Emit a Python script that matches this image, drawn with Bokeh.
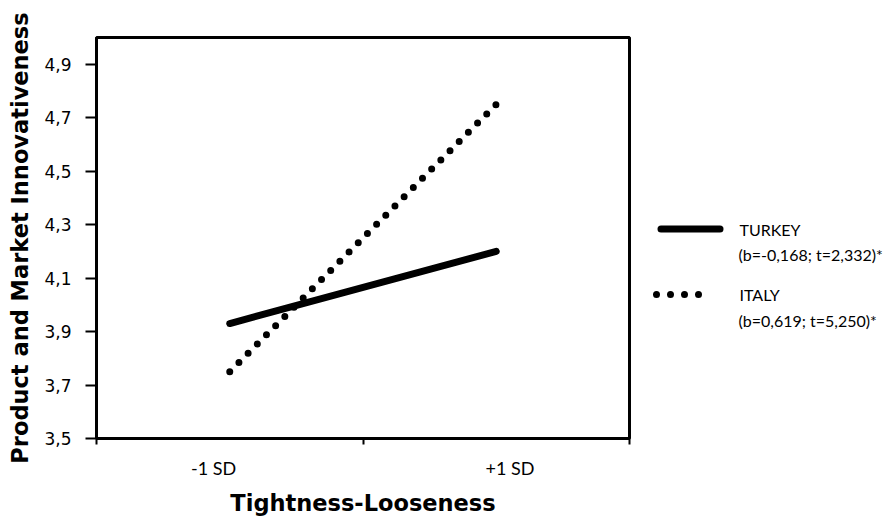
from bokeh.plotting import figure
from bokeh.models import FixedTicker, Range1d
from bokeh.layouts import row
from bokeh.core.properties import value
from bokeh.embed import file_html
from bokeh.resources import INLINE

# data
x_pos = [0.5, 1.5]
x_labels = ["-1 SD" + "\u00a0" * 7, "\u00a0" * 6 + "+1 SD"]
turkey = [3.93, 4.20]
italy = [3.75, 4.75]
y_ticks = [3.5, 3.7, 3.9, 4.1, 4.3, 4.5, 4.7, 4.9]
y_tick_labels = ["3,5", "3,7", "3,9", "4,1", "4,3", "4,5", "4,7", "4,9"]
legend_names = ["TURKEY", "ITALY"]
legend_stats = ["(b=-0,168; t=2,332)*", "(b=0,619; t=5,250)*"]

H = 518
TOP, BOTTOM = 37, 77
p = figure(width=634, height=H, output_backend="svg", toolbar_location=None,
           x_range=Range1d(0, 2), y_range=Range1d(3.5, 5.0),
           min_border_left=96, min_border_right=5, min_border_top=TOP, min_border_bottom=BOTTOM)
p.xgrid.visible = False
p.ygrid.visible = False
p.outline_line_color = "black"
p.outline_line_width = 3
p.outline_line_alpha = 1

p.line(x_pos, turkey, line_color="black", line_width=7, line_cap="round")
p.line(x_pos, italy, line_color="black", line_width=7, line_cap="round", line_dash="0 13")

# axes
p.xaxis.ticker = FixedTicker(ticks=x_pos, minor_ticks=[0, 1, 2])
p.xaxis.major_label_overrides = {x: l for x, l in zip(x_pos, x_labels)}
p.xaxis.major_tick_out = 0
p.xaxis.major_tick_in = 0
p.xaxis.minor_tick_out = 6
p.xaxis.minor_tick_in = 0
p.xaxis.minor_tick_line_width = 2
p.xaxis.axis_line_width = 3
p.xaxis.major_label_text_font = "Lato"
p.xaxis.major_label_text_font_size = "18px"
p.xaxis.major_label_text_color = "black"
p.xaxis.major_label_standoff = 12
p.xaxis.axis_label = "Tightness-Looseness"
p.xaxis.axis_label_text_font = "DejaVu Sans"
p.xaxis.axis_label_text_font_style = "bold"
p.xaxis.axis_label_text_font_size = "22.5px"
p.xaxis.axis_label_text_color = "black"
p.xaxis.axis_label_standoff = 8

p.yaxis.ticker = FixedTicker(ticks=y_ticks, minor_ticks=[])
p.yaxis.major_label_overrides = {t: l for t, l in zip(y_ticks, y_tick_labels)}
p.yaxis.major_tick_out = 11
p.yaxis.major_tick_in = 0
p.yaxis.major_tick_line_width = 2
p.yaxis.axis_line_width = 3
p.yaxis.major_label_text_font = "DejaVu Sans"
p.yaxis.major_label_text_font_size = "17px"
p.yaxis.major_label_text_color = "black"
p.yaxis.major_label_standoff = 14
p.yaxis.axis_label = "Product and Market Innovativeness"
p.yaxis.axis_label_text_font = "DejaVu Sans"
p.yaxis.axis_label_text_font_style = "bold"
p.yaxis.axis_label_text_font_size = "22.5px"
p.yaxis.axis_label_text_color = "black"
p.yaxis.axis_label_standoff = 8

# legend panel (page-pixel coordinates, y measured from top; frame aligned with main plot)
lg = figure(width=260, height=H, output_backend="svg", toolbar_location=None,
            x_range=Range1d(0, 260), y_range=Range1d(H - BOTTOM, TOP),
            min_border_left=0, min_border_right=0, min_border_top=TOP, min_border_bottom=BOTTOM,
            outline_line_color=None)
lg.axis.visible = False
lg.grid.visible = False
leg_rows = [230, 296]
leg_dash = ["solid", "0 14"]
leg_x0 = [26.5, 22]
leg_x1 = [85.5, 78]
for name, stat, yy, d, a, b in zip(legend_names, legend_stats, leg_rows, leg_dash, leg_x0, leg_x1):
    lg.line([a, b], [yy, yy], line_color="black", line_width=7, line_cap="round", line_dash=d)
    lg.text([105], [yy], text=[name], text_font=value("Lato"), text_font_size="16px",
            text_baseline="middle", text_color="black")
    lg.text([104], [yy + 26], text=[stat], text_font=value("Lato"), text_font_size="16px",
            text_baseline="middle", text_color="black")

open("out.html", "w").write(file_html(row(p, lg), INLINE))
